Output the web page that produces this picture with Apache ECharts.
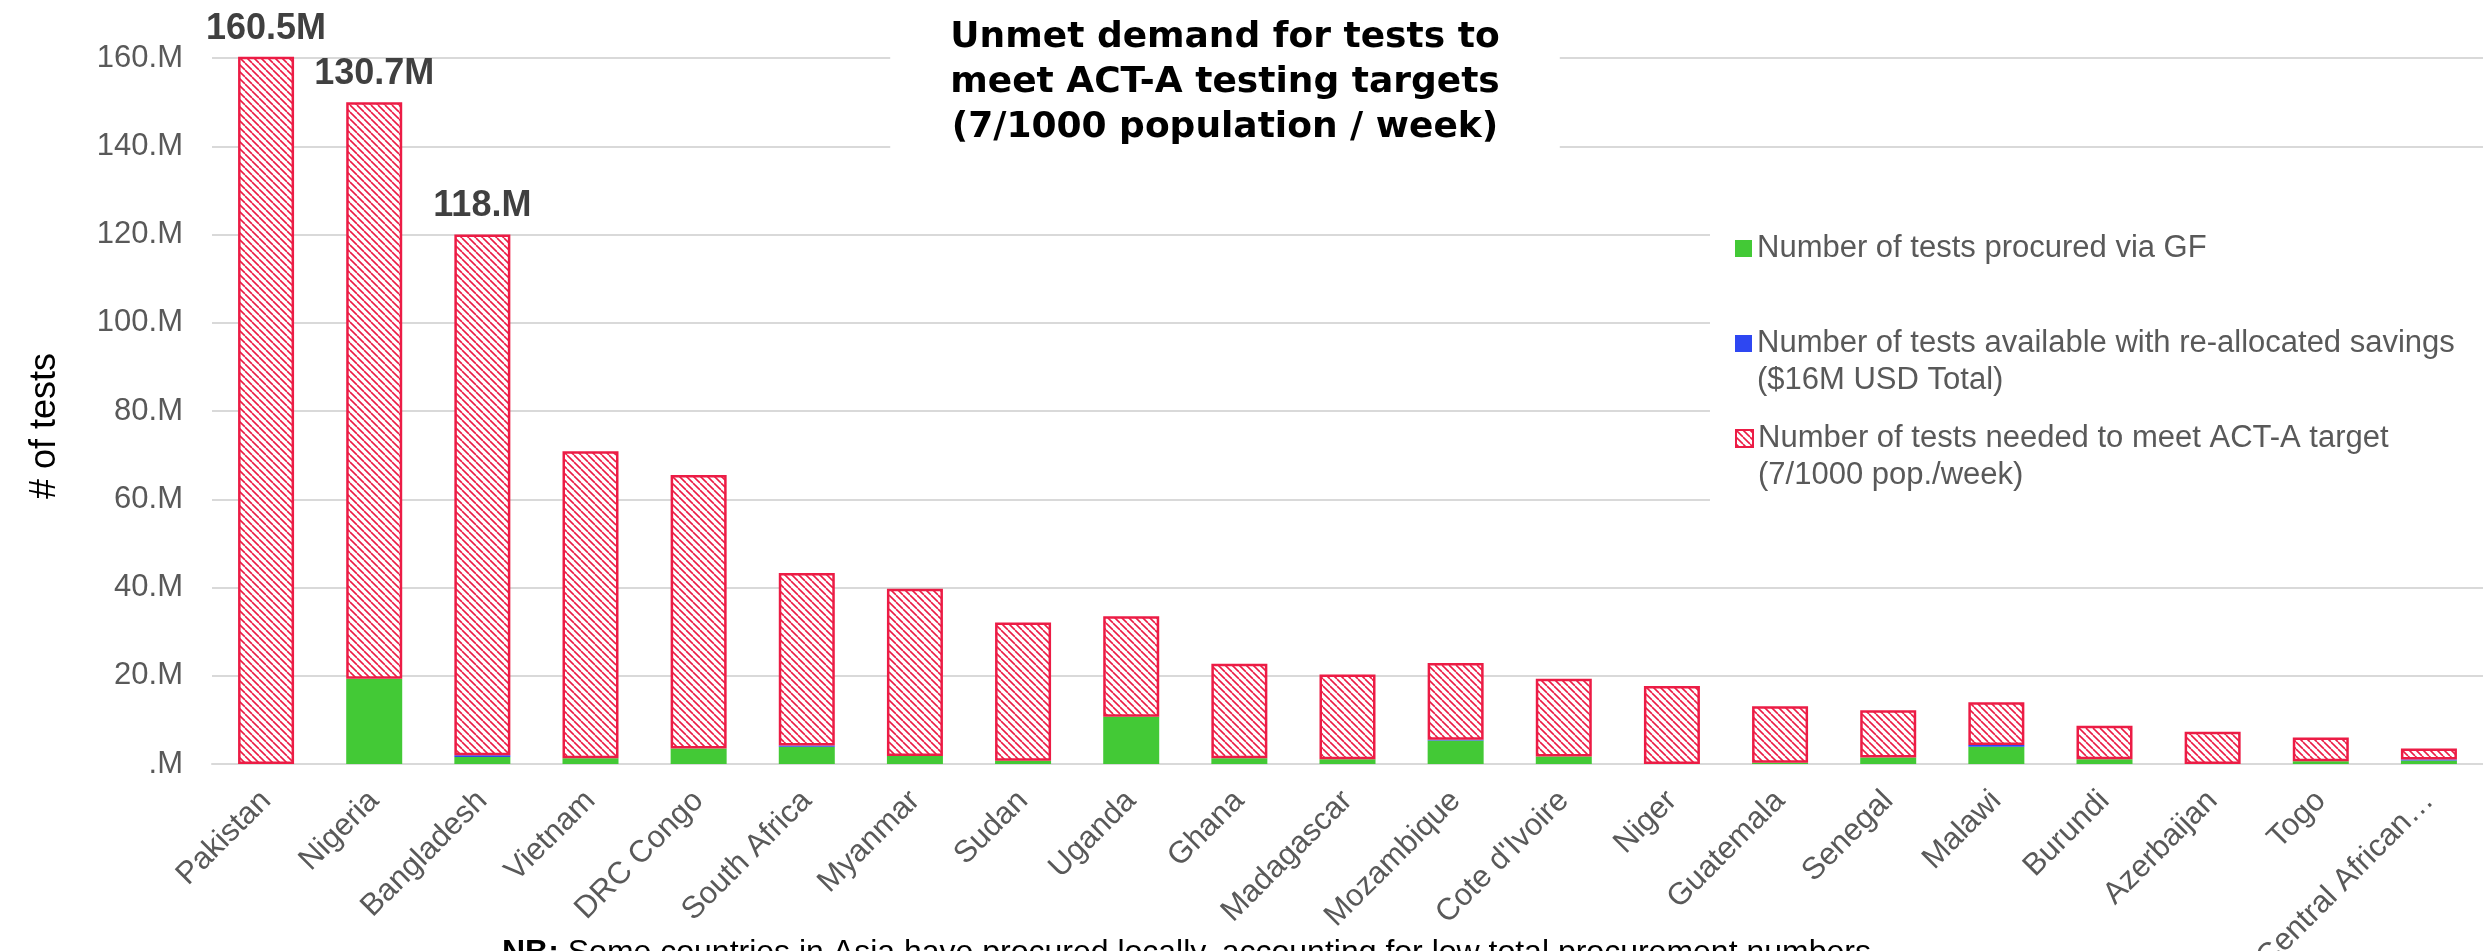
<!DOCTYPE html>
<html>
<head>
<meta charset="utf-8">
<script src="https://cdn.jsdelivr.net/npm/echarts@6/dist/echarts.min.js"></script>
<style>
  html, body { margin: 0; padding: 0; background: #fff; }
  #chart { width: 2483px; height: 951px; }
</style>
</head>
<body>
<div id="chart"></div>
<script>
// countries, in the order of the chart
const countries = ['Pakistan', 'Nigeria', 'Bangladesh', 'Vietnam', 'DRC Congo', 'South Africa', 'Myanmar',
  'Sudan', 'Uganda', 'Ghana', 'Madagascar', 'Mozambique', "Cote d'Ivoire", 'Niger', 'Guatemala',
  'Senegal', 'Malawi', 'Burundi', 'Azerbaijan', 'Togo', 'Central African…']

// values in millions of tests
const procuredGF = [0, 19.3, 1.6, 1.3, 3.5, 3.9, 1.8, 0.75, 10.7, 1.3, 1.06, 5.3, 1.7, 0, 0.3, 1.5, 3.9, 1.06, 0, 0.6, 0.8]
const reallocated = [0, 0, 0.4, 0, 0, 0.3, 0, 0, 0, 0, 0, 0.2, 0, 0, 0, 0, 0.4, 0, 0, 0, 0.2]
const neededTarget = [160.5, 130.7, 118.0, 69.6, 62.0, 39.1, 37.9, 31.3, 22.8, 21.4, 19.2, 17.4, 17.6, 17.7, 12.8, 10.7, 9.7, 7.6, 7.3, 5.4, 2.5]
const labelledBars = 3 // only the top three get a value label

const yTicks = { min: 0, max: 160, interval: 20 }

const GREEN = '#43C936'
const BLUE = '#2E47F2'
const RED = '#EC1C45'

const seriesNames = [
  'Number of tests procured via GF',
  'Number of tests available with re-allocated savings\n($16M USD Total)',
  'Number of tests needed to meet ACT-A target\n(7/1000 pop./week)'
]

// diagonal hatch like the excel pattern fill
function hatch () {
  const size = 7
  const c = document.createElement('canvas')
  c.width = size
  c.height = size
  const ctx = c.getContext('2d')
  ctx.fillStyle = '#fff'
  ctx.fillRect(0, 0, size, size)
  ctx.strokeStyle = RED
  ctx.lineWidth = 1.6
  for (const k of [-size, 0, size]) {
    ctx.beginPath()
    ctx.moveTo(k, 0)
    ctx.lineTo(k + size, size)
    ctx.stroke()
  }
  return { image: c, repeat: 'repeat' }
}

const chart = echarts.init(document.getElementById('chart'), null, { renderer: 'canvas' })

const legendText = { fontFamily: 'Liberation Sans', fontSize: 31, color: '#595959', lineHeight: 37 }
function legendAt (name, top) {
  return {
    data: [name],
    left: 1735,
    top: top,
    padding: 0,
    itemWidth: 17,
    itemHeight: 17,
    itemGap: 0,
    icon: 'rect',
    selectedMode: false,
    textStyle: legendText,
    // first line of a two-line name sits next to the marker
    formatter: n => (n.indexOf('\n') >= 0 ? '\n' + n : n)
  }
}

const option = {
  animation: false,
  backgroundColor: '#fff',
  textStyle: { fontFamily: 'Liberation Sans' },
  grid: {
    left: 212,
    right: 0,
    top: 58,
    bottom: 187,
    outerBoundsMode: 'none',
    containLabel: false
  },
  legend: [
    legendAt(seriesNames[0], 230),
    legendAt(seriesNames[1], 288),
    Object.assign(legendAt(seriesNames[2], 383), {
      itemStyle: { borderColor: RED, borderWidth: 2 }
    })
  ],
  xAxis: {
    type: 'category',
    data: countries,
    axisTick: { show: false },
    axisLine: { lineStyle: { color: '#D9D9D9', width: 2 } },
    axisLabel: {
      interval: 0,
      rotate: 45,
      margin: 32,
      fontSize: 31,
      color: '#595959',
      fontFamily: 'Liberation Sans'
    }
  },
  yAxis: {
    type: 'value',
    min: yTicks.min,
    max: yTicks.max,
    interval: yTicks.interval,
    axisLine: { show: false },
    axisTick: { show: false },
    splitLine: { lineStyle: { color: '#D9D9D9', width: 2 } },
    axisLabel: {
      margin: 29,
      fontSize: 31,
      color: '#595959',
      fontFamily: 'Liberation Sans',
      formatter: v => (v === 0 ? '.M' : v + '.M')
    }
  },
  series: [
    {
      name: seriesNames[0],
      type: 'bar',
      stack: 'tests',
      barWidth: 56,
      itemStyle: { color: GREEN },
      data: procuredGF
    },
    {
      name: seriesNames[1],
      type: 'bar',
      stack: 'tests',
      barWidth: 56,
      itemStyle: { color: BLUE },
      data: reallocated
    },
    {
      name: seriesNames[2],
      type: 'bar',
      stack: 'tests',
      barWidth: 56,
      clip: true,
      itemStyle: { color: hatch(), borderColor: RED, borderWidth: 2.5 },
      label: {
        show: true,
        position: 'top',
        distance: 10,
        fontFamily: 'Liberation Sans',
        fontSize: 36,
        fontWeight: 'bold',
        color: '#404040',
        formatter: p => (p.dataIndex < labelledBars ? p.value.toFixed(1).replace(/0$/, '') + 'M' : '')
      },
      data: neededTarget
    }
  ],
  graphic: [
    {
      // white box behind the legend
      type: 'rect',
      z: 3,
      shape: { x: 1710, y: 190, width: 800, height: 340 },
      style: { fill: '#fff' }
    },
    {
      type: 'text',
      z: 5,
      x: 1225,
      y: 83,
      style: {
        text: 'Unmet demand for tests to\nmeet ACT-A testing targets\n(7/1000 population / week)',
        fontFamily: 'DejaVu Sans',
        fontWeight: 'bold',
        fontSize: 36,
        lineHeight: 45,
        fill: '#000',
        align: 'center',
        verticalAlign: 'middle',
        backgroundColor: '#fff',
        padding: [4, 60]
      }
    },
    {
      type: 'text',
      z: 5,
      x: 45,
      y: 426,
      rotation: Math.PI / 2,
      style: {
        text: '# of tests',
        fontFamily: 'Liberation Sans',
        fontSize: 36,
        fill: '#000',
        align: 'center',
        verticalAlign: 'middle'
      }
    },
    {
      type: 'text',
      z: 5,
      x: 502,
      y: 953,
      style: {
        text: '{b|NB:} Some countries in Asia have procured locally, accounting for low total procurement numbers',
        fontFamily: 'Liberation Sans',
        fontSize: 32,
        fill: '#000',
        verticalAlign: 'middle',
        rich: {
          b: { fontFamily: 'Liberation Sans', fontSize: 32, fontWeight: 'bold', fill: '#000' }
        }
      }
    }
  ]
}

chart.setOption(option)
</script>
</body>
</html>
